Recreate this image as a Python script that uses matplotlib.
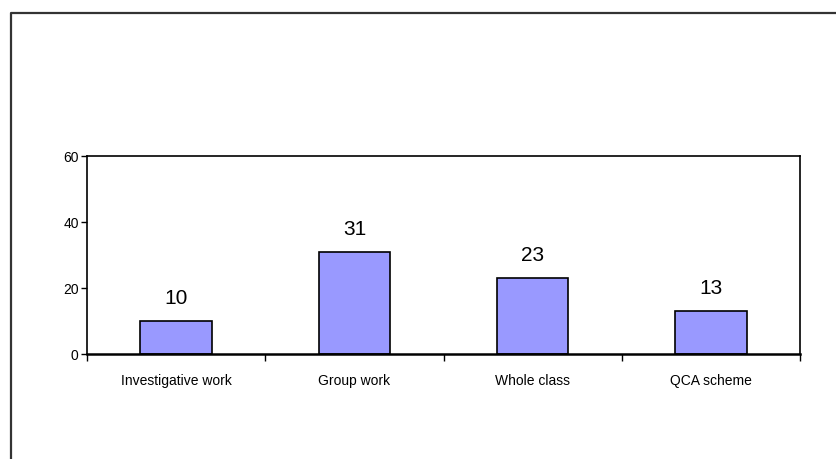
import matplotlib.pyplot as plt
from matplotlib import font_manager
from matplotlib.lines import Line2D

categories = ['Investigative work', 'Group work', 'Whole class', 'QCA scheme']
values = [10, 31, 23, 13]
yticks = [0, 20, 40, 60]

names = {f.name for f in font_manager.fontManager.ttflist}
label_font = 'Liberation Sans Narrow' if 'Liberation Sans Narrow' in names else 'Liberation Sans'
plt.rcParams['font.family'] = ['Liberation Sans', 'DejaVu Sans']

fig = plt.figure(figsize=(8.36, 4.6), dpi=100)
ax = fig.add_axes([87 / 836, 1 - 355 / 460, 713 / 836, 198 / 460])

xs = list(range(len(categories)))
ax.bar(xs, values, width=0.4, color='#9999FF', edgecolor='black', linewidth=1.2, zorder=2)

for x, v in zip(xs, values):
    ax.annotate(str(v), (x, v), xytext=(0, 10), textcoords='offset points',
                ha='center', va='bottom', fontsize=15)

ax.set_xlim(-0.5, len(categories) - 0.5)
ax.set_ylim(0, 60)
ax.set_yticks(yticks)
ax.set_xticks(xs)
ax.set_xticklabels(categories, fontsize=10, family=label_font)
ax.set_xticks([i - 0.5 for i in range(len(categories) + 1)], minor=True)
ax.tick_params(axis='x', which='major', length=0, pad=14)
ax.tick_params(axis='x', which='minor', length=5, width=1, direction='out')
ax.tick_params(axis='y', length=4, width=1, pad=2, labelsize=10)
for lab in ax.get_yticklabels():
    lab.set_family(label_font)

for s in ax.spines.values():
    s.set_linewidth(1.2)
    s.set_color('black')
ax.spines['bottom'].set_linewidth(1.8)

# outer chart frame (cut off at right and bottom)
fx = 11 / 836
fy = 1 - 14 / 460
fig.add_artist(Line2D([fx, fx, 1.01], [-0.01, fy, fy], transform=fig.transFigure,
                      color='#333333', linewidth=1.6))

fig.savefig('out.png', dpi=100)
